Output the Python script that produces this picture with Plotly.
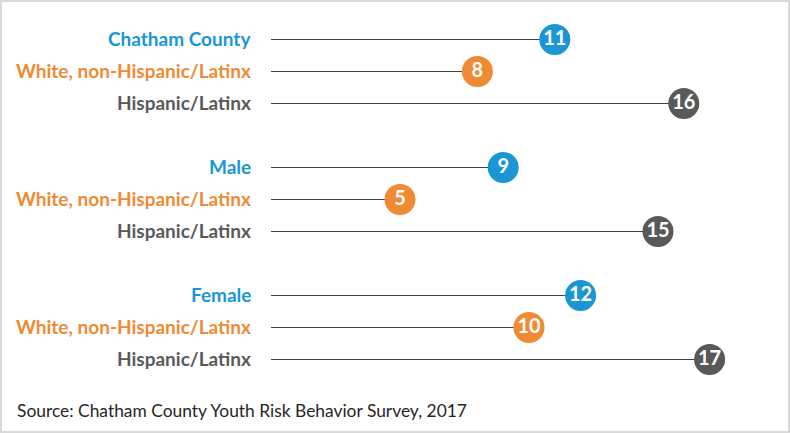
import plotly.graph_objects as go

labels = ["Chatham County", "White, non-Hispanic/Latinx", "Hispanic/Latinx",
          "Male", "White, non-Hispanic/Latinx", "Hispanic/Latinx",
          "Female", "White, non-Hispanic/Latinx", "Hispanic/Latinx"]
values = [11, 8, 16, 9, 5, 15, 12, 10, 17]
row_pos = [0, 1, 2, 4, 5, 6, 8, 9, 10]
kinds = ["total", "white", "hisp"] * 3
source = "Source: Chatham County Youth Risk Behavior Survey, 2017"

palette = {"total": "#1a96d4", "white": "#f08a33", "hisp": "#595959"}
colors = [palette[k] for k in kinds]

W, H = 790, 433
ML, MR, MT, MB = 271, 3, 7, 42
pw, ph = W - ML - MR, H - MT - MB
half = 0.5 / 32

fig = go.Figure()
lx, ly = [], []
for v, y in zip(values, row_pos):
    lx += [0, v, None]
    ly += [y, y, None]
fig.add_trace(go.Scatter(x=lx, y=ly, mode="lines",
                         line=dict(color="#404040", width=1),
                         hoverinfo="skip", showlegend=False))
fig.add_trace(go.Scatter(x=values, y=row_pos, mode="markers+text",
                         marker=dict(size=31, color=colors, line=dict(width=0)),
                         text=[str(v) for v in values], textposition="middle center",
                         textfont=dict(family="Lato", size=20, color="white", weight="bold"),
                         cliponaxis=False, showlegend=False))

for lab, y, c in zip(labels, row_pos, colors):
    fig.add_annotation(x=0, y=y, xref="x", yref="y", text="<b>" + lab + "</b>",
                       showarrow=False, xanchor="right", yanchor="middle",
                       xshift=-18, yshift=1,
                       font=dict(family="Lato", size=19, color=c))

fig.add_annotation(x=(15 - ML) / pw, y=(H - MB - 410) / ph, xref="paper", yref="paper",
                   text=source, showarrow=False, xanchor="left", yanchor="middle",
                   font=dict(family="Lato", size=17.4, color="#262626"))

fig.add_shape(type="rect", xref="paper", yref="paper",
              x0=(1 - ML) / pw, x1=(W - 1 - ML) / pw,
              y0=(H - MB - (H - 1)) / ph, y1=(H - MB - 1) / ph,
              line=dict(color="#d9d9d9", width=2))

fig.update_layout(width=W, height=H, margin=dict(l=ML, r=MR, t=MT, b=MB),
                  paper_bgcolor="white", plot_bgcolor="white",
                  xaxis=dict(range=[0, 20], visible=False, fixedrange=True),
                  yaxis=dict(range=[11 - half, -1 - half], visible=False, fixedrange=True),
                  showlegend=False)
fig.write_html("out.html", config={"displayModeBar": False},
               post_script="document.body.style.margin='0';document.body.style.overflow='hidden';")
